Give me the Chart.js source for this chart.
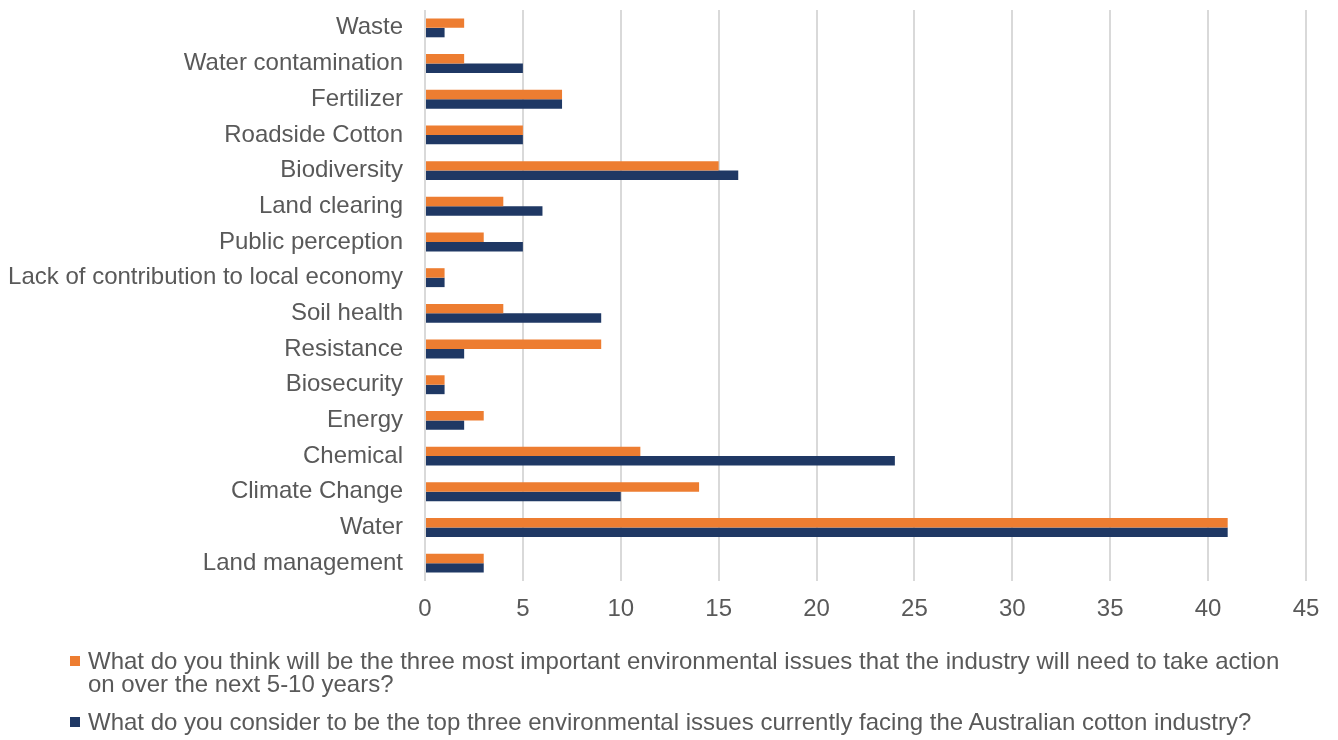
<!DOCTYPE html>
<html>
<head>
<meta charset="utf-8">
<script src="https://cdn.jsdelivr.net/npm/chart.js@4/dist/chart.umd.min.js"></script>
<style>
  body { margin: 0; background: #fff; }
  #wrap { position: relative; width: 1338px; height: 740px; }
  #legend { position: absolute; left: 70px; top: 649px; font-family: "Liberation Sans", Arial, sans-serif; font-size: 24px; color: #595959; line-height: 23px; }
  .item { position: relative; padding-left: 18px; margin-bottom: 15px; white-space: nowrap; }
  .box { position: absolute; left: 0; top: 7px; width: 10px; height: 10px; }
</style>
</head>
<body>
<div id="wrap">
  <canvas id="chart" width="1338" height="740"></canvas>
  <div id="legend"></div>
</div>
<script>
const categories = ['Waste', 'Water contamination', 'Fertilizer', 'Roadside Cotton', 'Biodiversity',
  'Land clearing', 'Public perception', 'Lack of contribution to local economy', 'Soil health',
  'Resistance', 'Biosecurity', 'Energy', 'Chemical', 'Climate Change', 'Water', 'Land management'];

const futureIssues = [2, 2, 7, 5, 15, 4, 3, 1, 4, 9, 1, 3, 11, 14, 41, 3];
const currentIssues = [1, 5, 7, 5, 16, 6, 5, 1, 9, 2, 1, 2, 24, 10, 41, 3];

const seriesLabels = [
  'What do you think will be the three most important environmental issues that the industry will need to take action\non over the next 5-10 years?',
  'What do you consider to be the top three environmental issues currently facing the Australian cotton industry?'
];
const seriesColors = ['#ED7D31', '#1F3864'];

const font = { family: '"Liberation Sans", Arial, sans-serif', size: 24 };

new Chart(document.getElementById('chart'), {
  type: 'bar',
  data: {
    labels: categories,
    datasets: [
      { label: seriesLabels[0], data: futureIssues, backgroundColor: seriesColors[0] },
      { label: seriesLabels[1], data: currentIssues, backgroundColor: seriesColors[1] }
    ]
  },
  options: {
    indexAxis: 'y',
    responsive: false,
    animation: false,
    layout: { padding: { top: 10, right: 32, left: 0, bottom: 0 } },
    datasets: { bar: { categoryPercentage: 0.53, barPercentage: 1 } },
    plugins: { legend: { display: false }, tooltip: { enabled: false } },
    scales: {
      x: {
        min: 0, max: 45,
        ticks: { stepSize: 5, color: '#595959', font, padding: 14 },
        grid: { color: '#d9d9d9', lineWidth: 2, drawTicks: false },
        border: { display: false },
        afterFit: s => { s.height = 159; }
      },
      y: {
        ticks: { color: '#595959', font, padding: 14 },
        grid: { display: false },
        border: { display: false },
        afterFit: s => { s.width = 425; s.paddingTop = 0; s.paddingBottom = 0; }
      }
    }
  }
});

// legend as html, so the long first label can wrap like the original
const legend = document.getElementById('legend');
seriesLabels.forEach((txt, i) => {
  const div = document.createElement('div');
  div.className = 'item';
  div.innerHTML = '<span class="box" style="background:' + seriesColors[i] + '"></span>' +
    txt.replace('\n', '<br>');
  legend.appendChild(div);
});
</script>
</body>
</html>
